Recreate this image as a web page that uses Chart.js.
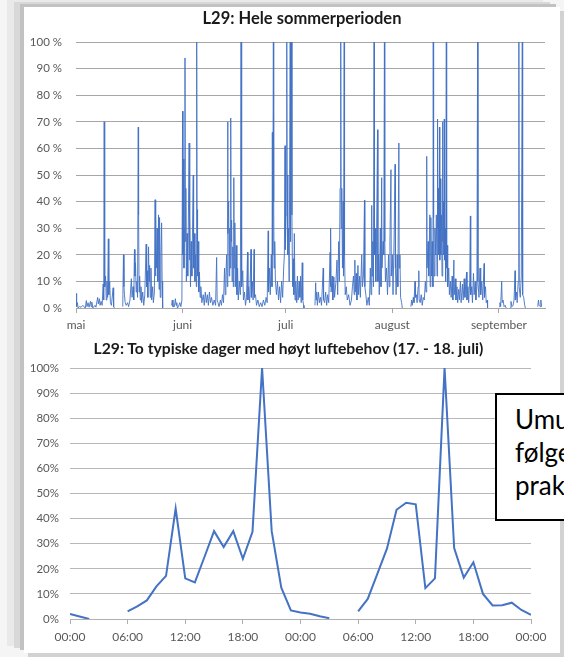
<!DOCTYPE html>
<html>
<head>
<meta charset="utf-8">
<script src="https://cdn.jsdelivr.net/npm/chart.js@4.4.1/dist/chart.umd.min.js"></script>
<style>
html,body{margin:0;padding:0;}
body{width:564px;height:657px;overflow:hidden;background:#f5f5f5;position:relative;font-family:Lato,sans-serif;}
#panel{position:absolute;left:24px;top:7px;width:536px;height:646px;background:#fff;
  box-shadow:-4px -3px 0 #c2c2c2,-10px -5px 0 #d8d8d8,-17px -7px 0 #e9e9e9,4px 4px 0 #d2d2d2;}
#c1{position:absolute;left:24px;top:7px;}
#c2{position:absolute;left:24px;top:335px;}
.tittel{position:absolute;width:500px;text-align:center;font-family:Lato,sans-serif;font-weight:bold;color:#1a1a1a;white-space:nowrap;line-height:20px;}
#t1{left:52px;top:8px;font-size:16.5px;}
#t2{left:38.5px;top:338px;font-size:15.7px;}
#boks{position:absolute;left:495px;top:393px;width:110px;height:128px;box-sizing:border-box;border:2px solid #000;background:#fff;
  font-family:Lato,sans-serif;font-size:26px;line-height:33px;padding:8px 0 0 18px;color:#000;white-space:nowrap;}
</style>
</head>
<body>
<div id="panel"></div>
<canvas id="c1" width="536" height="328"></canvas>
<canvas id="c2" width="536" height="318"></canvas>
<div class="tittel" id="t1">L29: Hele sommerperioden</div>
<div class="tittel" id="t2">L29: To typiske dager med høyt luftebehov (17. - 18. juli)</div>
<div id="boks">Umu<br>følge<br>prak</div>
<script>
// ---- Øvre diagram: hele sommerperioden (x = dager etter 1. mai, y = %) ----
const maneder = ['mai','juni','juli','august','september'];
const manedStart = [0,31,61,92,123];

const maiPunkter = [
 [0.0,1],[0.1,5.5],[0.25,0.5],[0.4,2],[0.6,0],[1.0,0.5],[1.5,0.3],[2.0,1],[2.7,0],[3.0,2.8],[3.2,0.5],[3.5,2],[3.8,0.3],[4.2,2.5],[4.4,0.5],[4.6,2.2],[4.9,0],[5.5,1],[5.8,0.3],[6.3,4],[6.5,1.5],[6.8,3.5],[7.0,1],[7.3,2.5],[7.6,1],[7.9,9],[8.05,3],[8.2,70],[8.35,8],[8.6,12],[8.8,3],[9.0,10],[9.2,4],[9.4,26],[9.55,5],[9.8,10],[10.0,2],[10.3,1],[10.8,7.6],[10.95,0.5],[11.2,0],[11.3,null],
 [13.6,0.5],[13.8,20],[13.95,8],[14.1,5],[14.3,2],[14.6,1],[15.0,2],[15.3,0.5],[15.7,3],[16.1,11],[16.3,4],[16.6,8],[16.8,3],[17.0,22],[17.15,12],[17.3,17],[17.5,6],[17.7,10],[17.9,4],[18.1,68],[18.2,35],[18.35,6],[18.5,12],[18.7,3],[18.9,8],[19.1,2],[19.4,6],[19.7,1],[20.0,5],[20.4,24],[20.55,8],[20.7,14],[20.9,4],[21.1,23],[21.25,10],[21.4,16],[21.6,4],[21.8,15],[22.0,3],[22.3,8],[22.5,2],[22.8,6],[23.0,40.7],[23.1,12],[23.25,35],[23.4,15],[23.6,30],[23.8,10],[24.0,35],[24.15,7],[24.3,34],[24.5,4],[24.7,20],[24.9,32],[25.05,10],[25.2,0],[25.3,null],
 [27.8,1],[28.0,3],[28.2,0.5],[28.6,0.5],[28.9,3.5],[29.1,1],[29.3,2],[29.5,0],[29.8,0.5],[30.2,2],[30.5,0.5],[30.8,3]
];
const juniPunkter = [
 [31.0,74],[31.1,20],[31.25,56],[31.4,15],[31.55,30],[31.7,94],[31.8,25],[31.95,45],[32.1,10],[32.3,28],[32.5,12],[32.7,35],[32.9,62],[33.0,18],[33.15,35],[33.3,8],[33.5,25],[33.7,12],[33.9,30],[34.1,50],[34.2,15],[34.4,28],[34.6,10],[34.8,20],[35.0,8],[35.1,100],[35.2,37],[35.35,12],[35.5,25],[35.7,6],[35.9,13.5],[36.1,4],[36.3,8],[36.6,2],[37.0,5],[37.3,1],[37.6,6],[37.9,2],[38.2,5],[38.5,1],[38.8,6],[39.1,2],[39.4,4],[39.8,1],[40.2,3],[40.6,1],[40.9,19],[41.05,3],[41.3,2],[41.6,0.5],[42.0,3],[42.3,1],[42.6,5],[42.9,2],[43.2,15],[43.4,5],[43.6,12],[43.8,20],[44.0,8],[44.1,70],[44.2,28],[44.4,40],[44.55,12],[44.7,30],[44.85,15],[45.0,71.4],[45.1,25],[45.25,33],[45.4,10],[45.6,23],[45.75,8],[45.9,49],[46.0,15],[46.2,32],[46.35,8],[46.6,23.5],[46.8,5],[47.0,15],[47.2,3],[47.5,10],[47.8,5],[48.0,100],[48.1,37],[48.25,8],[48.5,14],[48.7,3],[49.0,6],[49.3,1],[49.6,4],[49.9,21],[50.0,3],[50.2,8],[50.5,2],[50.9,22],[51.0,4],[51.3,10],[51.5,3],[51.8,22],[51.9,4],[52.2,5],[52.5,1],[52.9,3],[53.3,0.5],[53.7,2],[54.1,0.5],[54.5,3],[54.9,1],[55.3,4],[55.6,2],[55.9,29],[56.0,6],[56.3,15],[56.5,5],[56.8,20],[57.0,8],[57.1,66],[57.2,20],[57.4,100],[57.5,40],[57.6,15],[57.8,25],[58.0,10],[58.3,5],[58.6,10],[58.9,3],[59.2,8],[59.5,2],[59.8,10],[60.1,4],[60.4,15],[60.6,20],[60.8,61],[60.9,22]
];
const juliPunkter = [
 [61.1,35],[61.3,100],[61.4,50],[61.6,20],[61.8,30],[62.0,10],[62.3,100],[62.4,25],[62.7,100],[62.8,35],[63.0,8],[63.2,18.5],[63.35,5],[63.5,28],[63.7,3],[63.9,10],[64.2,2],[64.4,12],[64.6,3],[64.9,10],[65.1,4],[65.3,12],[65.5,2],[65.8,17],[65.95,3],[66.2,1],[66.3,0],[66.4,null],
 [69.5,1],[69.7,9.5],[69.85,3],[70.0,6],[70.2,1],[70.5,6],[70.8,2],[71.1,4],[71.4,1],[71.9,15],[72.0,3],[72.3,2],[72.6,6],[72.9,1],[73.2,5],[73.5,2],[73.9,21],[74.0,8],[74.1,30],[74.2,6],[74.5,12],[74.7,3],[75.0,11.6],[75.2,4],[75.6,10],[75.9,18],[76.1,5],[76.4,25],[76.6,10],[76.8,45],[77.0,100],[77.1,30],[77.3,45],[77.5,15],[77.7,40],[77.8,12],[78.0,100],[78.1,20],[78.3,5],[78.6,8],[78.9,3],[79.3,5],[79.7,1],[80.1,3],[80.4,8],[80.7,12],[80.9,5],[81.1,18],[81.2,6],[81.5,13],[81.7,3],[82.0,16],[82.2,5],[82.5,12],[82.7,4],[83.1,20],[83.3,8],[83.6,12],[83.9,40.5],[84.0,8],[84.3,5],[84.6,1],[85.0,4],[85.3,1],[85.6,15],[85.8,5],[86.0,38.6],[86.1,12],[86.3,25],[86.5,8],[86.7,100],[86.8,20],[87.0,30],[87.2,10],[87.4,25],[87.7,67],[87.8,10],[88.0,20],[88.2,5],[88.5,30],[88.7,8],[88.9,49],[89.0,15],[89.3,25],[89.5,20],[89.7,100],[89.8,25],[90.0,10],[90.3,15],[90.6,5],[90.9,20],[91.1,8],[91.3,25],[91.6,52],[91.7,12]
];
const augustPunkter = [
 [92.0,20],[92.2,5],[92.5,25],[92.8,54],[92.9,15],[93.1,5],[93.4,20],[93.6,8],[93.9,62],[94.0,15],[94.2,20],[94.4,4],[94.7,2],[94.9,0],[95.0,null],
 [97.4,0.5],[97.6,3],[97.8,1],[98.1,4],[98.3,2],[98.6,10],[98.7,4],[99.0,5],[99.2,2],[99.5,8],[99.7,14],[99.8,3],[100.1,2],[100.4,5],[100.7,1],[101.0,4],[101.3,3],[101.6,10],[101.8,6],[102.0,57],[102.1,15],[102.4,25],[102.6,12],[102.9,35],[103.0,8],[103.2,34],[103.4,12],[103.6,25],[103.8,8],[103.9,100],[104.0,34],[104.2,12],[104.4,30],[104.6,20],[104.8,35],[105.0,12],[105.1,71],[105.2,30],[105.4,45],[105.5,20],[105.7,68],[105.8,18],[106.0,48.6],[106.1,20],[106.3,35],[106.45,12],[106.6,70],[106.7,25],[106.9,40],[107.0,20],[107.1,71],[107.2,18],[107.4,30],[107.5,10],[107.7,100],[107.8,15],[108.0,23.5],[108.1,8],[108.4,15],[108.6,5],[108.9,10],[109.1,4],[109.4,12],[109.6,3],[109.9,18],[110.0,5],[110.3,11],[110.5,3],[110.8,8],[111.0,2],[111.3,7],[111.5,3],[111.8,10],[112.0,2],[112.4,9],[112.6,3],[112.9,11],[113.1,4],[113.6,13.5],[113.7,3],[114.0,8],[114.2,2],[114.5,10],[114.7,34.6],[114.8,5],[115.1,8],[115.3,2],[115.6,13],[115.8,5],[116.1,10],[116.3,3],[116.6,8],[116.8,100],[116.9,10],[117.2,4],[117.5,15],[117.7,5],[118.0,10],[118.3,3],[118.7,16.7],[118.8,4],[119.1,8],[119.3,2],[119.6,3],[119.7,0],[119.8,null]
];
const septemberPunkter = [
 [123.1,0.5],[123.3,2],[123.5,0.5],[123.8,10],[123.95,2],[124.2,3],[124.5,0.5],[124.8,1],[125.1,0],[125.2,null],
 [126.3,0],[126.5,2.5],[126.8,0.5],[127.1,1],[127.4,3],[127.7,14],[127.8,3],[128.1,6],[128.3,2],[128.6,10],[128.8,100],[128.9,8],[129.2,4],[129.5,12],[129.8,100],[129.9,5],[130.2,4],[130.5,1],[130.7,0],[130.8,null],
 [134.3,0.5],[134.5,3],[134.7,1],[135.0,0.5],[135.2,3],[135.4,0.5]
];

// ---- Nedre diagram: 17.–18. juli, timeverdier (%) ----
const tidLabels = ['00:00','06:00','12:00','18:00','00:00','06:00','12:00','18:00','00:00'];
const timeVerdier = [
 2,1,0,null,null,null,3,5,7.4,13,17.2,44,16.2,14.6,24.7,35,28.7,35,24,34.7,100,35,12.5,3.4,
 2.6,2.1,1.1,0.3,null,null,3,8,18,28,43.5,46.3,45.7,12.3,16.2,100,28.3,16.5,22.6,10,5.4,5.5,6.5,3.6,1.6
];

const sommerData = [].concat(maiPunkter, juniPunkter, juliPunkter, augustPunkter, septemberPunkter)
  .map(p => ({x: p[0], y: p[1]}));
const timeData = timeVerdier.map((v, i) => ({x: i, y: v}));

const tickFarge = '#595959';

new Chart(document.getElementById('c1'), {
  type: 'line',
  data: {datasets: [{data: sommerData, borderColor: 'rgba(68,114,196,0.9)', borderWidth: 1,
    pointRadius: 0, tension: 0, spanGaps: false, fill: false}]},
  options: {
    responsive: false, animation: false,
    layout: {padding: {left: 4, right: 15, top: 35, bottom: 1}},
    plugins: {legend: {display: false}, tooltip: {enabled: false}, title: {display: false}},
    scales: {
      x: {
        type: 'linear', min: 0, max: 136.4,
        afterBuildTicks: s => { s.ticks = manedStart.map(v => ({value: v})); },
        afterFit: s => { s.height = 26; },
        ticks: {callback: (v, i) => maneder[i], color: tickFarge, font: {family: 'Lato', size: 12},
          padding: 5, maxRotation: 0, autoSkip: false},
        grid: {drawOnChartArea: false, drawTicks: true, tickLength: 5, color: '#a6a6a6'},
        border: {display: true, color: '#a6a6a6'}
      },
      y: {
        min: 0, max: 100,
        afterFit: s => { s.width = 48; },
        ticks: {stepSize: 10, callback: v => v + ' %', color: tickFarge, font: {family: 'Lato', size: 11.5}, padding: 14},
        grid: {color: '#a6a6a6', drawTicks: false},
        border: {display: false}
      }
    }
  }
});

new Chart(document.getElementById('c2'), {
  type: 'line',
  data: {datasets: [{data: timeData, borderColor: '#4472C4', borderWidth: 2,
    pointRadius: 0, tension: 0, spanGaps: false, fill: false}]},
  options: {
    responsive: false, animation: false,
    layout: {padding: {left: 4, right: 29, top: 33, bottom: 8}},
    plugins: {legend: {display: false}, tooltip: {enabled: false}, title: {display: false}},
    scales: {
      x: {
        type: 'linear', min: 0, max: 48,
        afterFit: s => { s.height = 26; },
        ticks: {stepSize: 6, callback: (v, i) => tidLabels[i], color: tickFarge, font: {family: 'Lato', size: 12},
          padding: 6, maxRotation: 0, autoSkip: false},
        grid: {drawOnChartArea: false, drawTicks: true, tickLength: 5, color: '#b0b0b0'},
        border: {display: true, color: '#b0b0b0'}
      },
      y: {
        min: 0, max: 100,
        afterFit: s => { s.width = 42; },
        ticks: {stepSize: 10, callback: v => v + '%', color: tickFarge, font: {family: 'Lato', size: 11.5}, padding: 11},
        grid: {color: '#b8b8b8', drawTicks: false},
        border: {display: false}
      }
    }
  }
});
</script>
</body>
</html>
